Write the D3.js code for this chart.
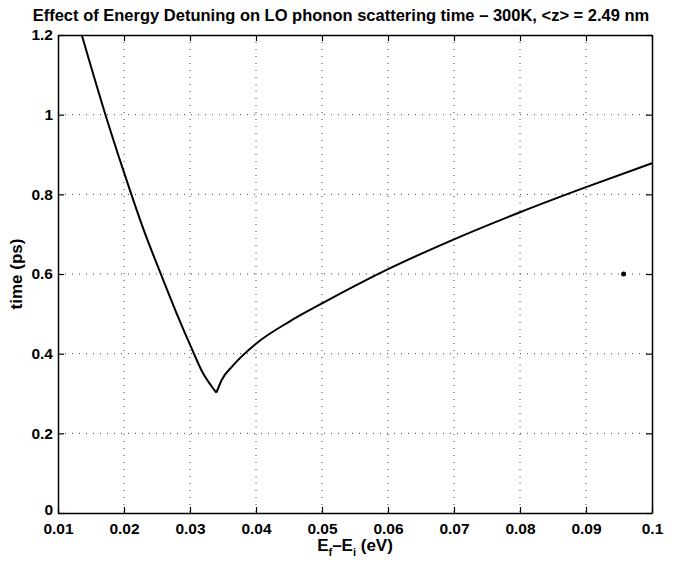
<!DOCTYPE html>
<html>
<head>
<meta charset="utf-8">
<script src="https://cdn.jsdelivr.net/npm/d3@7"></script>
<style>
  body { margin: 0; background: #fff; }
  text { font-family: "Liberation Sans", Arial, sans-serif; font-weight: bold; fill: #000; }
</style>
</head>
<body>
<div id="chart"></div>
<script>
// values
const energy = [0.0136, 0.0170, 0.0200, 0.0230, 0.0257, 0.0280, 0.0302, 0.0320, 0.0334, 0.0340,
                0.0348, 0.0365, 0.0400, 0.0450, 0.0500, 0.0600, 0.0700, 0.0800, 0.0900, 0.1000];
const time = [1.2, 1.01, 0.855, 0.71, 0.595, 0.50, 0.415, 0.35, 0.315, 0.302,
              0.334, 0.370, 0.425, 0.480, 0.526, 0.612, 0.687, 0.755, 0.818, 0.878];
const minIndex = 9; // cusp, where the two branches meet
const strayX = [0.0957];
const strayY = [0.6];
const xTicks = [0.01, 0.02, 0.03, 0.04, 0.05, 0.06, 0.07, 0.08, 0.09, 0.1];
const yTicks = [0, 0.2, 0.4, 0.6, 0.8, 1, 1.2];

const width = 685, height = 562;
const margin = { top: 35, right: 33, bottom: 49, left: 58 };
const iw = width - margin.left - margin.right;
const ih = height - margin.top - margin.bottom;

const svg = d3.select('#chart').append('svg')
    .attr('width', width)
    .attr('height', height);

const g = svg.append('g')
    .attr('transform', `translate(${margin.left},${margin.top})`);

const x = d3.scaleLinear().domain([0.01, 0.1]).range([0, iw]);
const y = d3.scaleLinear().domain([0, 1.2]).range([ih, 0]);

// dotted grid
g.append('g').selectAll('line')
    .data(xTicks.slice(1, -1))
    .enter().append('line')
    .attr('x1', d => x(d)).attr('x2', d => x(d))
    .attr('y1', 0).attr('y2', ih)
    .attr('stroke', '#444').attr('stroke-width', 1)
    .attr('stroke-dasharray', '1,6');

g.append('g').selectAll('line')
    .data(yTicks.slice(1, -1))
    .enter().append('line')
    .attr('y1', d => y(d)).attr('y2', d => y(d))
    .attr('x1', 0).attr('x2', iw)
    .attr('stroke', '#444').attr('stroke-width', 1)
    .attr('stroke-dasharray', '1,6');

// axes, ticks pointing inward on every side
const fmtX = d => d === 0.1 ? '0.1' : d3.format('.2f')(d);
const fmtY = d => d3.format('~g')(d);

const xb = g.append('g').attr('transform', `translate(0,${ih})`)
    .call(d3.axisBottom(x).tickValues(xTicks).tickFormat(fmtX).tickSizeInner(-6).tickSizeOuter(0).tickPadding(10));
const xt = g.append('g')
    .call(d3.axisTop(x).tickValues(xTicks).tickFormat('').tickSizeInner(-6).tickSizeOuter(0));
const yl = g.append('g')
    .call(d3.axisLeft(y).tickValues(yTicks).tickFormat(fmtY).tickSizeInner(-6).tickSizeOuter(0).tickPadding(5));
const yr = g.append('g').attr('transform', `translate(${iw},0)`)
    .call(d3.axisRight(y).tickValues(yTicks).tickFormat('').tickSizeInner(-6).tickSizeOuter(0));

[xb, xt, yl, yr].forEach(a => {
    a.selectAll('.domain').attr('stroke', '#000').attr('stroke-width', 1.5);
    a.selectAll('.tick line').attr('stroke', '#000').attr('stroke-width', 1.2);
    a.selectAll('text').style('font-size', '15.5px');
});
// the "0" sits a little higher so it clears "0.01"
yl.selectAll('.tick text').filter(d => d === 0).attr('dy', '0.1em');

// curve: two smooth branches meeting at a sharp minimum
const line = d3.line()
    .x(d => x(d[0]))
    .y(d => y(d[1]))
    .curve(d3.curveMonotoneX);

const pts = energy.map((e, i) => [e, time[i]]);
[pts.slice(0, minIndex + 1), pts.slice(minIndex)].forEach(branch => {
    g.append('path')
        .datum(branch)
        .attr('d', line)
        .attr('fill', 'none')
        .attr('stroke', '#000')
        .attr('stroke-width', 2)
        .attr('stroke-linejoin', 'round');
});

g.selectAll('.stray')
    .data(strayX)
    .enter().append('circle')
    .attr('class', 'stray')
    .attr('cx', d => x(d))
    .attr('cy', (d, i) => y(strayY[i]))
    .attr('r', 2.5)
    .attr('fill', '#000');

// title
svg.append('text')
    .attr('x', 341)
    .attr('y', 21)
    .attr('text-anchor', 'middle')
    .style('font-size', '16.5px')
    .text('Effect of Energy Detuning on LO phonon scattering time \u2013 300K, <z> = 2.49 nm');

// x label with subscripts
const xl = svg.append('text')
    .attr('x', margin.left + iw / 2)
    .attr('y', 551)
    .attr('text-anchor', 'middle')
    .style('font-size', '17px');
xl.append('tspan').text('E');
xl.append('tspan').attr('dy', 5).style('font-size', '11px').text('f');
xl.append('tspan').attr('dy', -5).text('\u2013E');
xl.append('tspan').attr('dy', 5).style('font-size', '11px').text('i');
xl.append('tspan').attr('dy', -5).text(' (eV)');

// y label
svg.append('text')
    .attr('transform', `translate(22,${margin.top + ih / 2}) rotate(-90)`)
    .attr('text-anchor', 'middle')
    .style('font-size', '17px')
    .text('time (ps)');
</script>
</body>
</html>
